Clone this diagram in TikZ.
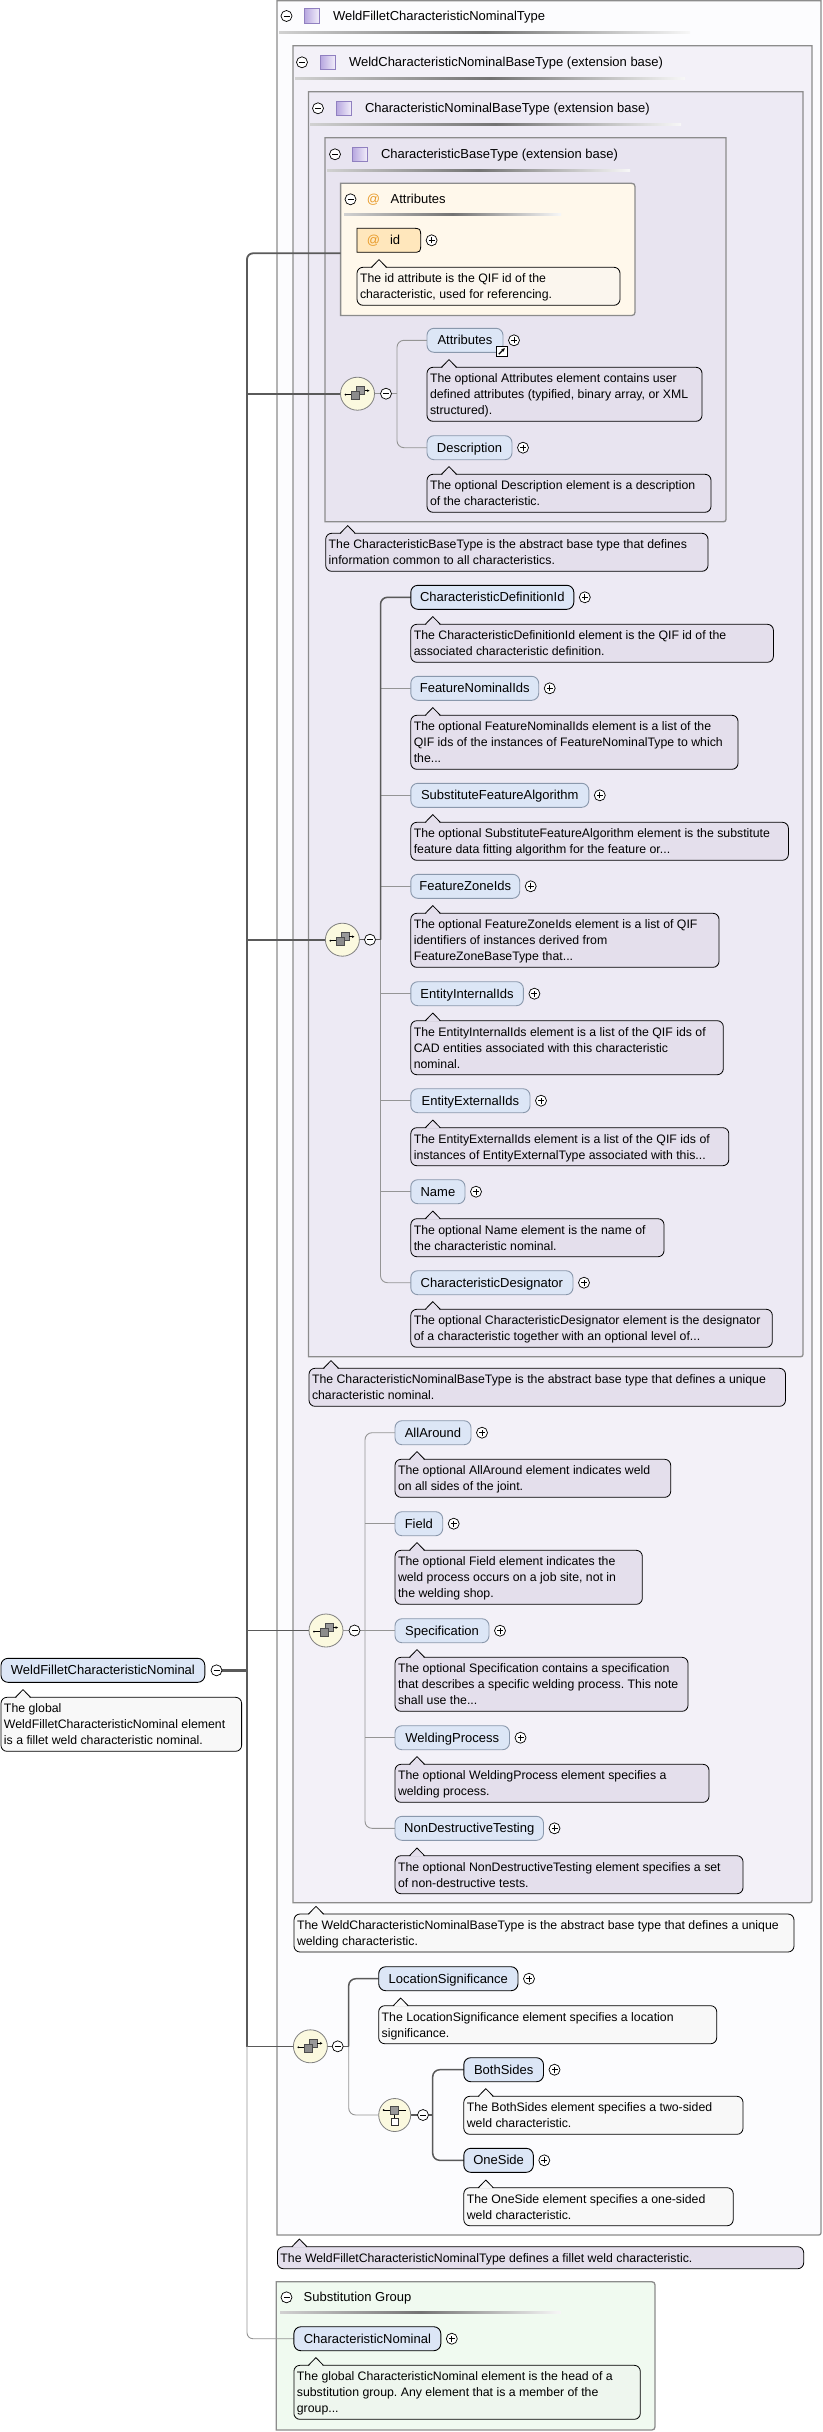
\documentclass[tikz,border=0pt]{standalone}
\usepackage{fontspec}
\setmainfont{Liberation Sans}
\frenchspacing
\usetikzlibrary{shapes.geometric,arrows.meta}
\pgfdeclarelayer{back}
\pgfdeclarelayer{mid}
\pgfsetlayers{back,mid,main}
\definecolor{elemfill}{HTML}{DCE6F6}
\definecolor{optborder}{HTML}{8A98AC}
\definecolor{lavnote}{HTML}{E4DFEC}
\definecolor{whitenote}{HTML}{F8F8F8}
\definecolor{greennote}{HTML}{EEF6EE}
\definecolor{boxA}{HTML}{FCFCFE}
\definecolor{boxB}{HTML}{F3F1F8}
\definecolor{boxC}{HTML}{EDEAF4}
\definecolor{boxD}{HTML}{E8E4F0}
\definecolor{attrfill}{HTML}{FFF8EB}
\definecolor{attrnote}{HTML}{FBF6EE}
\definecolor{idfill}{HTML}{FFE7BC}
\definecolor{substfill}{HTML}{F0FAF0}
\definecolor{seqfill}{HTML}{FBF9DF}
\definecolor{boxborder}{HTML}{8C8C8C}
\definecolor{trunkc}{HTML}{5A5A5A}
\definecolor{lightline}{HTML}{959595}
\definecolor{atcolor}{HTML}{E89A28}
\definecolor{sqA}{HTML}{B8A8E0}
\definecolor{sqB}{HTML}{F2EEFA}
\definecolor{sqborder}{HTML}{9080C0}
\newcommand\efont{\fontsize{13}{15}\selectfont}
\newcommand\nfont{\fontsize{12.3}{16}\selectfont}
\tikzset{
 every node/.style={inner sep=0pt,outer sep=0pt},
 elembox/.style={rounded corners=7pt,fill=elemfill,minimum height=24pt,anchor=north west,font=\efont,text height=12.3pt,text depth=3pt},
 reqel/.style={elembox,draw=black,line width=0.9pt},
 optel/.style={elembox,draw=optborder,line width=0.9pt},
 notebox/.style={draw=black,line width=0.8pt,rounded corners=6pt,anchor=north west},
 notetext/.style={anchor=west,font=\nfont},
 pmcircle/.style={circle,draw=black,fill=white,line width=0.7pt,minimum size=11pt},
 iconbar/.style={line width=0.8pt,black},
 seqic/.style={ellipse,draw=black!50,fill=seqfill,line width=0.8pt,minimum width=34pt,minimum height=33pt},
 title/.style={anchor=west,font=\efont,text height=12.3pt,text depth=3pt},
 tsq/.style={draw=sqborder,line width=0.7pt,minimum size=14.5pt,left color=sqA,right color=sqB},
 container/.style={draw=boxborder,line width=1.3pt},
 light/.style={draw=lightline,line width=0.9pt},
 dark/.style={draw=trunkc,line width=1.5pt},
 trunk/.style={draw=trunkc,line width=1.8pt},
 divider/.style={left color=black!18,right color=black!3,middle color=black!55},
}
\newcommand\minusic[2]{\node[pmcircle] (#1) at #2 {};
 \draw[iconbar] ([xshift=-3pt]#1.center) -- ([xshift=3pt]#1.center);}
\newcommand\plusic[2]{\node[pmcircle] (#1) at #2 {};
 \draw[iconbar] ([xshift=-3pt]#1.center) -- ([xshift=3pt]#1.center) ([yshift=-3pt]#1.center) -- ([yshift=3pt]#1.center);}
\newcommand\elem[6]{\node[#2,minimum width=#5pt] (#1) at (#3,#4) {#6};
 \plusic{#1p}{([xshift=11pt]#1.east)}}
\newcommand\note[7]{\node[notebox,fill=#2,minimum width=#5pt,minimum height=#6pt] (#1) at (#3,#4) {};
 \fill[#2] ([xshift=15pt,yshift=-0.8pt]#1.north west) -- ([xshift=22pt,yshift=7.7pt]#1.north west) -- ([xshift=29pt,yshift=-0.8pt]#1.north west) -- cycle;
 \draw[line width=0.8pt,line join=round] ([xshift=14.5pt]#1.north west) -- ([xshift=22pt,yshift=7.7pt]#1.north west) -- ([xshift=29.5pt]#1.north west);
 \node[notetext] (#1t) at ([xshift=3pt,yshift=-1.4pt]#1.west) {\begin{tabular}{@{}l@{}}#7\end{tabular}};}
\newcommand\brbox[5]{\draw[container,fill=#1] (#2,#3) -- (#4,#3) -- (#4,#5-5) .. controls (#4,#5) .. (#4-5,#5) -- (#2,#5) -- cycle;}
\newcommand\rrbox[5]{\draw[container,fill=#1] (#2,#3) -- (#4-7,#3) .. controls (#4,#3) .. (#4,#3+7) -- (#4,#5-7) .. controls (#4,#5) .. (#4-7,#5) -- (#2,#5) -- cycle;}
\newcommand\divline[3]{\shade[divider] (#1,#3-1) rectangle (#2,#3+1);}
\newcommand\seqsym[1]{%
 \draw[line width=0.6pt] ([xshift=-12pt,yshift=-1pt]#1.center) -- ([xshift=-5pt,yshift=-1pt]#1.center);
 \fill ([xshift=-12pt,yshift=-1pt]#1.center) circle (1pt);
 \draw[fill=black!40,draw=black!70,line width=0.5pt] ([xshift=-1pt,yshift=-1pt]#1.center) rectangle ([xshift=7pt,yshift=7pt]#1.center);
 \draw[fill=black!45,draw=black!70,line width=0.5pt] ([xshift=-6pt,yshift=-6pt]#1.center) rectangle ([xshift=2pt,yshift=2pt]#1.center);
 \draw[line width=0.6pt,-{Stealth[length=2.5pt,width=2.5pt]}] ([xshift=7pt,yshift=3pt]#1.center) -- ([xshift=12pt,yshift=3pt]#1.center);}
\newcommand\chsym[1]{%
 \draw[line width=0.6pt] ([xshift=-11pt,yshift=5pt]#1.center) -- ([xshift=11pt,yshift=5pt]#1.center);
 \fill ([xshift=-11pt,yshift=5pt]#1.center) circle (1pt);
 \draw[line width=0.5pt] ([yshift=2pt]#1.center) -- ([yshift=-3pt]#1.center);
 \draw[fill=black!40,draw=black!70,line width=0.5pt] ([xshift=-4pt,yshift=1pt]#1.center) rectangle ([xshift=4pt,yshift=9pt]#1.center);
 \draw[fill=white,draw=black!80,line width=0.5pt] ([xshift=-3.5pt,yshift=-10pt]#1.center) rectangle ([xshift=3.5pt,yshift=-3pt]#1.center);}
\begin{document}
\begin{tikzpicture}[x=1pt,y=-1pt]
\useasboundingbox (0,0) rectangle (822,2432);
\begin{pgfonlayer}{back}
\fill[white] (0,0) rectangle (822,2432);
\brbox{boxA}{277}{0.7}{821}{2235}
\brbox{boxB}{293}{45.7}{812}{1902.7}
\brbox{boxC}{308.5}{91.7}{803}{1356.7}
\brbox{boxD}{325}{137.7}{726}{521.7}
\rrbox{attrfill}{340.6}{183.3}{635}{315.5}
\rrbox{substfill}{276.3}{2281.7}{655}{2430}
\divline{279}{690}{32.7}
\divline{295}{685}{79}
\divline{310}{681}{125}
\divline{327}{630}{171}
\divline{344}{561}{215}
\divline{280}{561}{2312.7}
\end{pgfonlayer}
% titles
\minusic{mA}{(286.5,16)} \node[tsq] (qA) at (312,16) {}; \node[title] (tA) at (333,16) {WeldFilletCharacteristicNominalType};
\minusic{mB}{(302,62.3)} \node[tsq] (qB) at (328,62.3) {}; \node[title] (tB) at (349,62.3) {WeldCharacteristicNominalBaseType (extension base)};
\minusic{mC}{(318,108.3)} \node[tsq] (qC) at (344,108.3) {}; \node[title] (tC) at (365,108.3) {CharacteristicNominalBaseType (extension base)};
\minusic{mD}{(335,154.3)} \node[tsq] (qD) at (360,154.3) {}; \node[title] (tD) at (381,154.3) {CharacteristicBaseType (extension base)};
\minusic{mAt}{(350.5,199.3)} \node[title,anchor=center,text=atcolor] (atA) at (373.5,199.3) {@}; \node[title] (tAt) at (390.7,199.3) {Attributes};
\minusic{mS}{(286.5,2297.3)} \node[title] (tS) at (303.7,2297.3) {Substitution Group};
% id attribute
\node[anchor=north west,minimum width=63.7pt,minimum height=24pt] (idb) at (357,228.3) {};
\draw[fill=idfill,draw=black,line width=0.8pt] (idb.north west) -- ([xshift=-9pt]idb.north east) .. controls (idb.north east) .. ([yshift=-9pt]idb.north east) -- ([yshift=9pt]idb.south east) .. controls (idb.south east) .. ([xshift=-9pt]idb.south east) -- (idb.south west) -- cycle;
\node[title,anchor=center,text=atcolor] (idat) at (373.5,240.3) {@};
\node[title] (idt) at (390,240.3) {id};
\plusic{idp}{(431.6,240.3)}
\note{nid}{attrnote}{357}{267.3}{263}{38}{The id attribute is the QIF id of the\\characteristic, used for referencing.}
\coordinate (attin) at (340.6,253.3);
% sequence 1
\node[seqic] (s1) at (357.5,393.7) {}; \seqsym{s1}
\minusic{s1m}{(386,393.7)}
\coordinate (v1) at (397,393.7);
\elem{eatt}{optel}{427}{328.3}{76}{Attributes}
\node[draw=black,fill=white,line width=0.8pt,minimum size=10.5pt] (lnk) at (501.8,351.2) {};
\draw[line width=1.1pt,-{Stealth[length=3.5pt,width=3.5pt]}] ([xshift=-3pt,yshift=-3pt]lnk.center) -- ([xshift=3pt,yshift=3pt]lnk.center);
\note{natt}{lavnote}{427}{367.3}{275}{54}{The optional Attributes element contains user\\defined attributes (typified, binary array, or XML\\structured).}
\elem{edes}{optel}{427}{435.7}{85}{Description}
\note{ndes}{lavnote}{427}{474.3}{284}{38}{The optional Description element is a description\\of the characteristic.}
\note{ncbt}{lavnote}{325.7}{533.3}{382.3}{38}{The CharacteristicBaseType is the abstract base type that defines\\information common to all characteristics.}
% sequence 2
\node[seqic] (s2) at (342.4,939.7) {}; \seqsym{s2}
\minusic{s2m}{(370,939.7)}
\coordinate (v2) at (380.5,939.7);
\elem{ecdi}{reqel}{410.8}{585.3}{163}{CharacteristicDefinitionId}
\note{ncdi}{lavnote}{410.8}{624.3}{362.6}{38}{The CharacteristicDefinitionId element is the QIF id of the\\associated characteristic definition.}
\elem{efni}{optel}{410.8}{676.3}{127.9}{FeatureNominalIds}
\note{nfni}{lavnote}{410.8}{715.3}{327.2}{54}{The optional FeatureNominalIds element is a list of the\\QIF ids of the instances of FeatureNominalType to which\\the...}
\elem{esfa}{optel}{410.8}{783.3}{178}{SubstituteFeatureAlgorithm}
\note{nsfa}{lavnote}{410.8}{822.3}{377.6}{38}{The optional SubstituteFeatureAlgorithm element is the substitute\\feature data fitting algorithm for the feature or...}
\elem{efzi}{optel}{410.8}{874.3}{108.9}{FeatureZoneIds}
\note{nfzi}{lavnote}{410.8}{913.3}{308.2}{54}{The optional FeatureZoneIds element is a list of QIF\\identifiers of instances derived from\\FeatureZoneBaseType that...}
\elem{eeii}{optel}{410.8}{981.7}{112.6}{EntityInternalIds}
\note{neii}{lavnote}{410.8}{1020.7}{312.5}{54}{The EntityInternalIds element is a list of the QIF ids of\\CAD entities associated with this characteristic\\nominal.}
\elem{eeei}{optel}{410.8}{1088.7}{119.2}{EntityExternalIds}
\note{neei}{lavnote}{410.8}{1127.7}{318}{38}{The EntityExternalIds element is a list of the QIF ids of\\instances of EntityExternalType associated with this...}
\elem{enam}{optel}{410.8}{1179.7}{54.2}{Name}
\note{nnam}{lavnote}{410.8}{1218.7}{253.2}{38}{The optional Name element is the name of\\the characteristic nominal.}
\elem{ecde}{optel}{410.8}{1270.7}{162.2}{CharacteristicDesignator}
\note{ncde}{lavnote}{410.8}{1309.3}{361.5}{38}{The optional CharacteristicDesignator element is the designator\\of a characteristic together with an optional level of...}
\note{ncnbt}{lavnote}{309}{1368.3}{476.5}{38}{The CharacteristicNominalBaseType is the abstract base type that defines a unique\\characteristic nominal.}
% sequence 3
\node[seqic] (s3) at (326,1630.5) {}; \seqsym{s3}
\minusic{s3m}{(354.5,1630.5)}
\coordinate (v3) at (365,1630.5);
\elem{eall}{optel}{395}{1420.7}{76}{AllAround}
\note{nall}{lavnote}{395}{1459.3}{275.7}{38}{The optional AllAround element indicates weld\\on all sides of the joint.}
\elem{efld}{optel}{395}{1511.7}{47.7}{Field}
\note{nfld}{lavnote}{395}{1550.3}{247.3}{54}{The optional Field element indicates the\\weld process occurs on a job site, not in\\the welding shop.}
\elem{espc}{optel}{395}{1618.7}{94}{Specification}
\note{nspc}{lavnote}{395}{1657.3}{293}{54}{The optional Specification contains a specification\\that describes a specific welding process. This note\\shall use the...}
\elem{ewpr}{optel}{395}{1725.7}{114.5}{WeldingProcess}
\note{nwpr}{lavnote}{395}{1764.3}{314}{38}{The optional WeldingProcess element specifies a\\welding process.}
\elem{endt}{optel}{395}{1816.3}{148.5}{NonDestructiveTesting}
\note{nndt}{lavnote}{395}{1855.7}{348}{38}{The optional NonDestructiveTesting element specifies a set\\of non-destructive tests.}
\note{nwcnbt}{whitenote}{294}{1914}{500}{38}{The WeldCharacteristicNominalBaseType is the abstract base type that defines a unique\\welding characteristic.}
% sequence 4
\node[seqic] (s4) at (310.4,2046.3) {}; \seqsym{s4}
\minusic{s4m}{(337.7,2046.3)}
\coordinate (v4) at (348.7,2046.3);
\elem{eloc}{reqel}{378.7}{1966.7}{139.3}{LocationSignificance}
\note{nloc}{whitenote}{378.7}{2005.7}{338}{38}{The LocationSignificance element specifies a location\\significance.}
\node[seqic,minimum width=32pt] (ch) at (394.7,2115) {}; \chsym{ch}
\minusic{chm}{(423,2115)}
\coordinate (v5) at (432.7,2115);
\elem{ebth}{reqel}{463.8}{2057.7}{79.7}{BothSides}
\note{nbth}{whitenote}{463.8}{2096.3}{279.2}{38}{The BothSides element specifies a two-sided\\weld characteristic.}
\elem{eone}{reqel}{463.8}{2148.3}{69.5}{OneSide}
\note{none}{whitenote}{463.8}{2187.7}{269.4}{38}{The OneSide element specifies a one-sided\\weld characteristic.}
\note{nwfcnt}{lavnote}{277.4}{2246.7}{526.3}{22}{The WeldFilletCharacteristicNominalType defines a fillet weld characteristic.}
% substitution group
\elem{ecn}{reqel}{293.9}{2326.7}{146.9}{CharacteristicNominal}
\note{ncn}{greennote}{293.9}{2365.3}{346.4}{54}{The global CharacteristicNominal element is the head of a\\substitution group. Any element that is a member of the\\group...}
% global element
\node[reqel,minimum width=203.8pt] (ewf) at (1,1658.3) {WeldFilletCharacteristicNominal};
\minusic{ewfm}{(216.5,1670.3)}
\note{nwf}{whitenote}{1}{1697.3}{240.6}{54}{The global\\WeldFilletCharacteristicNominal element\\is a fillet weld characteristic nominal.}
\coordinate (tr1) at (247,1670.3);
% connectors
\begin{pgfonlayer}{mid}
\draw[trunk,rounded corners=6pt] (attin) -| (tr1);
\draw[trunk] (s1.west -| tr1) -- (s1.west);
\draw[trunk] (s2.west -| tr1) -- (s2.west);
\draw[trunk] (s3.west -| tr1) -- (s3.west);
\draw[trunk,line width=2.6pt] (ewfm.east) -- (tr1);
\draw[dark] (tr1) -- (s4.west -| tr1) -- (s4.west);
\draw[light,rounded corners=6pt] (s4.west -| tr1) |- (ecn.west);
% seq1
\draw[light] (s1.east) -- (s1m.west) (s1m.east) -- (v1);
\draw[light,rounded corners=7pt] (eatt.west) -| (v1) |- (edes.west);
% seq2
\draw[light,rounded corners=7pt] (ecdi.west) -| (v2) |- (ecde.west);
\foreach \e in {efni,esfa,efzi,eeii,eeei,enam} \draw[light] (\e.west -| v2) -- (\e.west);
\draw[dark,rounded corners=7pt] (ecdi.west) -| (v2);
\draw[dark] (s2.east) -- (s2m.west) (s2m.east) -- (v2);
% seq3
\draw[light,rounded corners=7pt] (eall.west) -| (v3) |- (endt.west);
\foreach \e in {efld,espc,ewpr} \draw[light] (\e.west -| v3) -- (\e.west);
\draw[light] (s3.east) -- (s3m.west) (s3m.east) -- (v3);
% seq4
\draw[light,rounded corners=7pt] (v4) |- (ch.west);
\draw[dark,rounded corners=7pt] (eloc.west) -| (v4);
\draw[dark] (s4.east) -- (s4m.west) (s4m.east) -- (v4);
% choice
\draw[dark,rounded corners=7pt] (ebth.west) -| (v5) |- (eone.west);
\draw[dark] (ch.east) -- (chm.west) (chm.east) -- (v5);
\end{pgfonlayer}
\end{tikzpicture}
\end{document}
